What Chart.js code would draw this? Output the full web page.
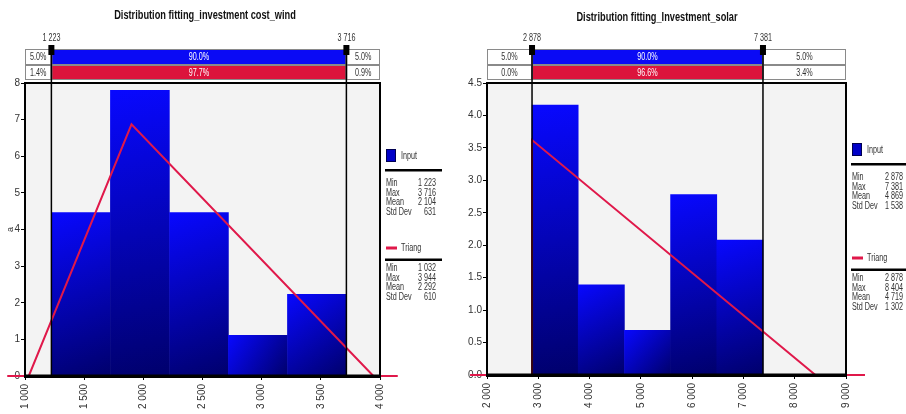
<!DOCTYPE html>
<html>
<head>
<meta charset="utf-8">
<script src="https://cdn.jsdelivr.net/npm/chart.js@4.4.1/dist/chart.umd.min.js"></script>
<style>
  html, body { margin: 0; padding: 0; background: #fff; width: 906px; height: 414px; overflow: hidden; }
  canvas { position: absolute; top: 0; }
  #wind { left: 0; }
  #solar { left: 452px; }
</style>
</head>
<body>
<canvas id="wind" width="452" height="414"></canvas>
<canvas id="solar" width="454" height="414"></canvas>
<script>
const FONT = '"Liberation Sans", Arial, sans-serif';

// ---- investment cost, wind ----
const windTitle = 'Distribution fitting_investment cost_wind';
const windBinCenters = [1472, 1971, 2470, 2968, 3467];
const windDensity = [4.46, 7.80, 4.46, 1.11, 2.23];
const windTriangX = [850, 1032, 1900, 3944, 4150];
const windTriangY = [0, 0, 6.87, 0, 0];
const windCutoffs = [1223, 3716];
const windCutoffLabels = ['1 223', '3 716'];
const windInputShares = ['5.0%', '90.0%', '5.0%'];
const windFitShares = ['1.4%', '97.7%', '0.9%'];
const windInputStats = [['Min', '1 223'], ['Max', '3 716'], ['Mean', '2 104'], ['Std Dev', '631']];
const windFitStats = [['Min', '1 032'], ['Max', '3 944'], ['Mean', '2 292'], ['Std Dev', '610']];

// ---- investment, solar ----
const solarTitle = 'Distribution fitting_Investment_solar';
const solarBinCenters = [3328, 4229, 5130, 6030, 6931];
const solarDensity = [4.16, 1.39, 0.69, 2.78, 2.08];
const solarTriangX = [1670, 2878, 2878, 8404, 9370];
const solarTriangY = [0, 0, 3.62, 0, 0];
const solarCutoffs = [2878, 7381];
const solarCutoffLabels = ['2 878', '7 381'];
const solarInputShares = ['5.0%', '90.0%', '5.0%'];
const solarFitShares = ['0.0%', '96.6%', '3.4%'];
const solarInputStats = [['Min', '2 878'], ['Max', '7 381'], ['Mean', '4 869'], ['Std Dev', '1 538']];
const solarFitStats = [['Min', '2 878'], ['Max', '8 404'], ['Mean', '4 719'], ['Std Dev', '1 302']];

const BLUE = '#0a0af5';
const RED = '#dc143c';
const LINE_RED = '#e0184a';
const TITLE_SQUEEZE = 0.77;
const LABEL_SQUEEZE = 0.72;

const spaced = v => String(Math.round(v)).replace(/\B(?=(\d{3})+(?!\d))/g, ' ');

function text(ctx, str, x, y, opt) {
  ctx.save();
  ctx.font = (opt.weight || 'normal') + ' ' + opt.size + 'px ' + FONT;
  ctx.fillStyle = opt.color || '#222';
  ctx.textBaseline = 'middle';
  ctx.textAlign = opt.align || 'left';
  ctx.translate(x, y);
  ctx.scale(opt.squeeze || 1, 1);
  ctx.fillText(str, 0, 0);
  ctx.restore();
}

// Draws the plot background, bar shading, cut-off markers, share rows and the stats panel.
const fittingPanel = {
  id: 'fittingPanel',
  beforeDraw(chart) {
    const { ctx, chartArea: a } = chart;
    ctx.save();
    ctx.fillStyle = '#f3f3f3';
    ctx.fillRect(a.left, a.top, a.right - a.left, a.bottom - a.top);
    ctx.restore();
  },
  beforeDatasetDraw(chart, args) {
    if (args.meta.type !== 'bar') return;
    const ctx = chart.ctx;
    args.meta.data.forEach(el => {
      const half = el.width / 2;
      const g = ctx.createLinearGradient(el.x - half, el.y, el.x + half, el.base);
      g.addColorStop(0, '#0808ff');
      g.addColorStop(1, '#00006c');
      el.options.backgroundColor = g;
    });
  },
  afterDatasetsDraw(chart, args, o) {
    const { ctx, chartArea: a, scales: { x } } = chart;
    const cx = o.cutoffs.map(v => x.getPixelForValue(v));
    const lbl = { size: 10, color: '#333', squeeze: LABEL_SQUEEZE };

    // share rows above the plot
    const rows = [
      { top: 49, h: 16, fill: BLUE, labels: o.inputShares },
      { top: 65, h: 15, fill: RED, labels: o.fitShares }
    ];
    rows.forEach(r => {
      const cells = [[a.left, cx[0], '#ffffff'], [cx[0], cx[1], r.fill], [cx[1], a.right, '#ffffff']];
      cells.forEach((c, i) => {
        ctx.fillStyle = c[2];
        ctx.fillRect(c[0], r.top, c[1] - c[0], r.h);
        ctx.strokeStyle = '#8a8a8a';
        ctx.lineWidth = 1;
        ctx.strokeRect(c[0] + 0.5, r.top + 0.5, c[1] - c[0] - 1, r.h - 1);
        text(ctx, r.labels[i], (c[0] + c[1]) / 2, r.top + r.h / 2 + 0.5,
          Object.assign({}, lbl, { color: i === 1 ? '#ffffff' : '#333', align: 'center' }));
      });
    });

    // plot frame
    ctx.save();
    ctx.strokeStyle = '#000';
    ctx.lineWidth = 2;
    ctx.strokeRect(a.left, a.top, a.right - a.left, a.bottom - a.top);
    ctx.lineWidth = 3;
    ctx.beginPath();
    ctx.moveTo(a.left - 1, a.bottom);
    ctx.lineTo(a.right + 1, a.bottom);
    ctx.stroke();

    // cut-off lines with markers and labels
    cx.forEach((px, i) => {
      ctx.lineWidth = 1.5;
      ctx.beginPath();
      ctx.moveTo(px, 49);
      ctx.lineTo(px, a.bottom);
      ctx.stroke();
      ctx.fillStyle = '#000';
      ctx.fillRect(px - 3, 45, 6, 10);
      text(ctx, o.cutoffLabels[i], px, 38, Object.assign({}, lbl, { align: 'center' }));
    });
    ctx.restore();

    // title
    text(ctx, o.title, o.titleX, o.titleY, { size: 12, weight: 'bold', color: '#111', align: 'center', squeeze: TITLE_SQUEEZE });

    // stats panel
    const L = o.legend;
    ctx.save();
    ctx.fillStyle = '#0000c8';
    ctx.fillRect(L.x, L.inputTop, 10, 13);
    ctx.strokeStyle = '#000050';
    ctx.lineWidth = 1;
    ctx.strokeRect(L.x + 0.5, L.inputTop + 0.5, 9, 12);
    ctx.restore();
    text(ctx, 'Input', L.x + 15, L.inputTop + 7, lbl);
    ctx.fillStyle = '#000';
    ctx.fillRect(L.x - 1, L.inputTop + 20, L.lineW, 2.5);
    o.inputStats.forEach((s, i) => {
      const y = L.inputTop + 34.5 + i * 9.6;
      text(ctx, s[0], L.x, y, lbl);
      text(ctx, s[1], L.valueRight, y, Object.assign({}, lbl, { align: 'right' }));
    });

    ctx.fillStyle = LINE_RED;
    ctx.fillRect(L.x, L.fitMid - 1.5, 11, 3);
    text(ctx, 'Triang', L.x + 15, L.fitMid, lbl);
    ctx.fillStyle = '#000';
    ctx.fillRect(L.x - 1, L.fitMid + 10.5, L.lineW, 2.5);
    o.fitStats.forEach((s, i) => {
      const y = L.fitMid + 20.5 + i * 9.6;
      text(ctx, s[0], L.x, y, lbl);
      text(ctx, s[1], L.valueRight, y, Object.assign({}, lbl, { align: 'right' }));
    });
  }
};

function buildChart(id, d) {
  const tickFont = { family: FONT, size: 10 };
  return new Chart(document.getElementById(id), {
    data: {
      datasets: [
        {
          type: 'line',
          label: 'Triang',
          data: d.triangX.map((v, i) => ({ x: v, y: d.triangY[i] })),
          borderColor: LINE_RED,
          borderWidth: 2,
          pointRadius: 0,
          tension: 0,
          clip: false,
          order: 0
        },
        {
          type: 'bar',
          label: 'Input',
          data: d.centers.map((v, i) => ({ x: v, y: d.density[i] })),
          backgroundColor: () => BLUE,
          borderWidth: 0,
          barPercentage: 1,
          categoryPercentage: 1,
          grouped: false,
          order: 1
        }
      ]
    },
    options: {
      responsive: false,
      animation: false,
      events: [],
      layout: { padding: { left: 0, top: 83, right: d.padRight, bottom: 0 } },
      plugins: {
        legend: { display: false },
        tooltip: { enabled: false },
        title: { display: false },
        fittingPanel: d.panel
      },
      scales: {
        x: {
          type: 'linear',
          offset: false,
          min: d.xMin,
          max: d.xMax,
          afterFit: s => { s.height = d.xHeight; },
          ticks: {
            stepSize: d.xStep,
            minRotation: 90,
            maxRotation: 90,
            padding: 4,
            color: '#333',
            font: tickFont,
            callback: v => spaced(v)
          },
          grid: { offset: false, drawOnChartArea: false, drawTicks: true, tickLength: 4, color: '#000', lineWidth: 1 },
          border: { display: true, color: '#000', width: 3 }
        },
        y: {
          min: 0,
          max: d.yMax,
          afterFit: s => { s.width = d.yWidth; },
          ticks: {
            stepSize: d.yStep,
            padding: 1,
            color: '#333',
            font: tickFont,
            callback: v => d.yDigits ? v.toFixed(d.yDigits) : String(v)
          },
          title: {
            display: !!d.yTitle,
            text: d.yTitle || '',
            color: '#333',
            font: { family: FONT, size: 9 },
            padding: { top: 5, bottom: 0 }
          },
          grid: { drawOnChartArea: false, drawTicks: true, tickLength: 4, color: '#000', lineWidth: 1 },
          border: { display: true, color: '#000', width: 2 }
        }
      }
    },
    plugins: [fittingPanel]
  });
}

buildChart('wind', {
  centers: windBinCenters,
  density: windDensity,
  triangX: windTriangX,
  triangY: windTriangY,
  xMin: 1000, xMax: 4000, xStep: 500,
  yMax: 8, yStep: 1, yDigits: 0,
  yTitle: 'a',
  padRight: 72, yWidth: 25, xHeight: 38,
  panel: {
    title: windTitle, titleX: 205, titleY: 16,
    cutoffs: windCutoffs, cutoffLabels: windCutoffLabels,
    inputShares: windInputShares, fitShares: windFitShares,
    inputStats: windInputStats, fitStats: windFitStats,
    legend: { x: 386, valueRight: 436, lineW: 57, inputTop: 149, fitMid: 248 }
  }
});

buildChart('solar', {
  centers: solarBinCenters,
  density: solarDensity,
  triangX: solarTriangX,
  triangY: solarTriangY,
  xMin: 2000, xMax: 9000, xStep: 1000,
  yMax: 4.5, yStep: 0.5, yDigits: 1,
  yTitle: '',
  padRight: 60, yWidth: 35, xHeight: 39,
  panel: {
    title: solarTitle, titleX: 205, titleY: 18,
    cutoffs: solarCutoffs, cutoffLabels: solarCutoffLabels,
    inputShares: solarInputShares, fitShares: solarFitShares,
    inputStats: solarInputStats, fitStats: solarFitStats,
    legend: { x: 400, valueRight: 451, lineW: 56, inputTop: 143, fitMid: 258 }
  }
});
</script>
</body>
</html>
